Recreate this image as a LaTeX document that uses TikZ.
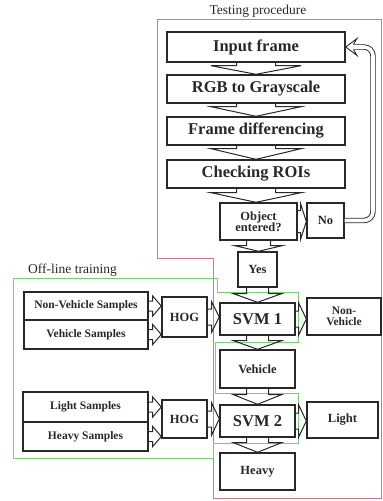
\documentclass[tikz,border=0pt]{standalone}
\usepackage{fontspec}
\setmainfont{Liberation Serif}
\usetikzlibrary{calc}
\definecolor{ink}{RGB}{40,40,40}
\definecolor{redframe}{RGB}{205,120,140}
\definecolor{greenframe}{RGB}{120,205,120}
\tikzset{
  box/.style={draw=ink, line width=1.4pt, inner sep=0pt, align=center, text=ink,
    font=\bfseries\fontsize{16.5}{18}\selectfont},
  midbox/.style={box, font=\bfseries\fontsize{12.5}{14}\selectfont},
  smallbox/.style={box, font=\bfseries\fontsize{11.5}{13}\selectfont},
  arr/.style={draw=ink, line width=1pt, line join=miter},
  lab/.style={inner sep=0pt, text=ink, font=\fontsize{13.5}{15}\selectfont},
  dbl/.style={draw=ink, double=white, double distance=3.6pt, line width=0.9pt, rounded corners=9pt},
  redline/.style={draw=redframe, line width=0.8pt},
  greenline/.style={draw=greenframe, line width=0.9pt}
}
\newcommand{\vfat}[5]{\draw[arr] let \p1=(#1.south), \p2=(#2.north) in
  (\x1-#3,\y1) -- (\x1-#3,\y1-#5) -- (\x1-#4,\y1-#5) -- (\x1,\y2) -- (\x1+#4,\y1-#5) -- (\x1+#3,\y1-#5) -- (\x1+#3,\y1);}
\newcommand{\hfat}[5]{\draw[arr] let \p1=(#1.east), \p2=(#2.west) in
  (\x1,\y1+#3) -- (\x1+#5,\y1+#3) -- (\x1+#5,\y1+#4) -- (\x2,\y1) -- (\x1+#5,\y1-#4) -- (\x1+#5,\y1-#3) -- (\x1,\y1-#3);}
\begin{document}
\begin{tikzpicture}[x=1pt,y=-1pt]
\useasboundingbox (0,0) rectangle (383,501);
% frames
\draw[redline] (157,19) -- (381,19) -- (381,498) -- (213,498) -- (213,258) -- (157,258) -- cycle;
\draw[greenline] (13,278) -- (217,278) -- (217,292) -- (298,292) -- (298,342) -- (215,342) -- (215,393) -- (298,393) -- (298,443) -- (213,443) -- (213,458) -- (13,458) -- cycle;
\node[lab] (tp) at (258,11) {Testing procedure};
\node[lab, anchor=west] (ot) at (28,270) {Off-line training};
% testing column
\node[box, minimum width=178pt, minimum height=30pt] (input) at (256,47) {Input frame};
\node[box, minimum width=178pt, minimum height=28pt] (rgb) at (256,89) {RGB to Grayscale};
\node[box, minimum width=178pt, minimum height=28pt] (fd) at (256,131) {Frame differencing};
\node[box, minimum width=178pt, minimum height=28pt] (roi) at (256,174) {Checking ROIs};
\node[midbox, minimum width=77pt, minimum height=37pt] (obj) at (258.5,221.5) {Object\\[-3pt]entered?};
\node[midbox, minimum width=37pt, minimum height=35pt] (no) at (325.5,220.5) {No};
\node[midbox, minimum width=39pt, minimum height=35pt] (yes) at (257.5,269.5) {Yes};
\node[box, minimum width=75pt, minimum height=32pt] (svm1) at (257.5,319) {SVM 1};
\node[smallbox, minimum width=74pt, minimum height=37pt] (nonveh) at (344,316.5) {Non-\\[-2pt]Vehicle};
\node[midbox, minimum width=75pt, minimum height=38pt] (veh) at (257.5,369) {Vehicle};
\node[box, minimum width=75pt, minimum height=32pt] (svm2) at (257.5,421) {SVM 2};
\node[midbox, minimum width=71pt, minimum height=36pt] (light) at (342.5,420) {Light};
\node[midbox, minimum width=75pt, minimum height=37pt] (heavy) at (257.5,471.5) {Heavy};
% training
\node[midbox, minimum width=45pt, minimum height=40pt] (hog1) at (184.5,317) {HOG};
\node[midbox, minimum width=45pt, minimum height=38pt] (hog2) at (184.5,419) {HOG};
\node[smallbox, minimum width=124pt, minimum height=28pt] (nvs) at (86,306) {Non-Vehicle Samples};
\node[smallbox, minimum width=124pt, minimum height=29pt] (vs) at (86,334.5) {Vehicle Samples};
\node[smallbox, minimum width=125pt, minimum height=30pt] (ls) at (85.5,407) {Light Samples};
\node[smallbox, minimum width=125pt, minimum height=29pt] (hs) at (85.5,436.5) {Heavy Samples};
% vertical arrows
\vfat{input}{rgb}{19.5pt}{45pt}{3pt}
\vfat{rgb}{fd}{19.5pt}{45pt}{3pt}
\vfat{fd}{roi}{19.5pt}{45pt}{3pt}
\vfat{roi}{obj}{19.5pt}{45pt}{4pt}
\vfat{obj}{yes}{12pt}{23.5pt}{5pt}
\vfat{yes}{svm1}{11pt}{24pt}{6pt}
\vfat{svm1}{veh}{11pt}{24pt}{5pt}
\vfat{veh}{svm2}{11pt}{24pt}{6pt}
\vfat{svm2}{heavy}{11pt}{24pt}{5pt}
% horizontal arrows
\hfat{obj}{no}{11pt}{17.5pt}{3pt}
\hfat{hog1}{svm1}{8pt}{15pt}{4pt}
\hfat{svm1}{nonveh}{8pt}{16pt}{3pt}
\hfat{hog2}{svm2}{8pt}{16pt}{4pt}
\hfat{svm2}{light}{8pt}{16pt}{3pt}
\hfat{nvs}{hog1}{5pt}{10pt}{4pt}
\hfat{vs}{hog1}{5pt}{10pt}{4pt}
\hfat{ls}{hog2}{5pt}{10pt}{4pt}
\hfat{hs}{hog2}{5pt}{10pt}{4pt}
% loop back
\coordinate (lpx) at (373,0);
\coordinate (hd) at (353.5,47);
\draw[dbl] (no.east) -- (no.east -| lpx) -- (lpx |- hd) -- (hd);
\filldraw[fill=white, draw=ink, line width=0.9pt, line join=miter]
  (353.5,44.3) -- (357,38.5) -- (input.east) -- (357,55.5) -- (353.5,49.7);
\end{tikzpicture}
\end{document}
